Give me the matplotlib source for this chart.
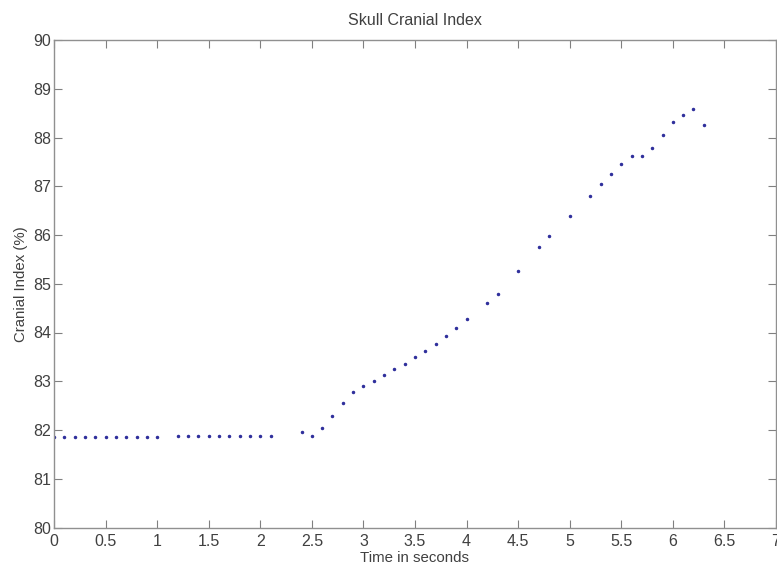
import matplotlib.pyplot as plt

# Cranial index samples
times = [0.0, 0.1, 0.2, 0.3, 0.4, 0.5, 0.6, 0.7, 0.8, 0.9, 1.0,
         1.2, 1.3, 1.4, 1.5, 1.6, 1.7, 1.8, 1.9, 2.0, 2.1,
         2.4, 2.5, 2.6, 2.7, 2.8, 2.9, 3.0, 3.1, 3.2, 3.3, 3.4, 3.5, 3.6, 3.7, 3.8, 3.9, 4.0,
         4.2, 4.3, 4.5, 4.7, 4.8, 5.0,
         5.2, 5.3, 5.4, 5.5, 5.6, 5.7, 5.8, 5.9, 6.0, 6.1, 6.2, 6.3]
index = [81.86, 81.86, 81.86, 81.86, 81.86, 81.86, 81.86, 81.86, 81.86, 81.86, 81.86,
         81.88, 81.88, 81.88, 81.88, 81.88, 81.88, 81.88, 81.88, 81.88, 81.88,
         81.95, 81.87, 82.05, 82.28, 82.56, 82.78, 82.90, 83.01, 83.13, 83.25, 83.36, 83.49,
         83.62, 83.77, 83.92, 84.10, 84.27,
         84.60, 84.78, 85.27, 85.75, 85.97, 86.39,
         86.81, 87.04, 87.26, 87.45, 87.63, 87.62, 87.78, 88.06, 88.32, 88.47, 88.59, 88.26]

xticks = [0, 0.5, 1, 1.5, 2, 2.5, 3, 3.5, 4, 4.5, 5, 5.5, 6, 6.5, 7]
yticks = list(range(80, 91))

text_col = '#404040'
plt.rcParams['font.family'] = ['Liberation Sans', 'DejaVu Sans']

fig = plt.figure(figsize=(7.77, 5.65), dpi=100)
ax = fig.add_axes([54 / 777, 37.5 / 565, 722 / 777, 487.5 / 565])

ax.plot(times, index, linestyle='none', marker='.', markersize=3, color='#30309c')

ax.set_xlim(0, 7)
ax.set_ylim(80, 90)
ax.set_xticks(xticks)
ax.set_xticklabels([('%g' % t) for t in xticks])
ax.set_yticks(yticks)

ax.tick_params(direction='in', length=6, width=0.8, color='#808080',
               labelsize=11.5, labelcolor=text_col, top=True, right=True)
ax.tick_params(axis='x', pad=5)
ax.tick_params(axis='y', pad=2)
for s in ax.spines.values():
    s.set_color('#909090')
    s.set_linewidth(1.0)

ax.set_title('Skull Cranial Index', fontsize=11.5, color=text_col, pad=11)
ax.set_xlabel('Time in seconds', fontsize=10.8, color=text_col, labelpad=1)
ax.set_ylabel('Cranial Index (%)', fontsize=10.8, color=text_col, labelpad=4)

fig.savefig('out.png', dpi=100)
